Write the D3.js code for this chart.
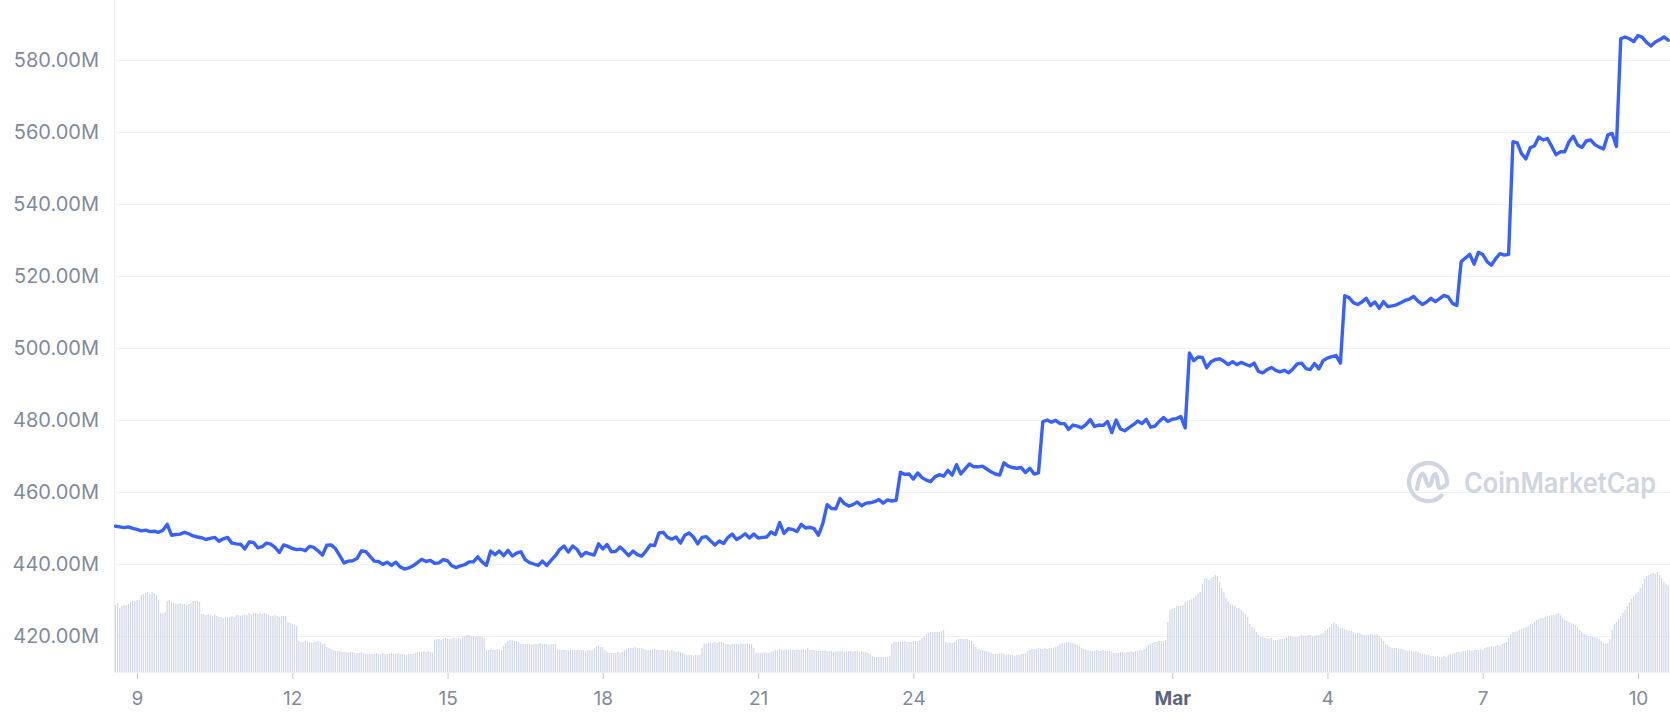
<!DOCTYPE html>
<html>
<head>
<meta charset="utf-8">
<script src="https://cdn.jsdelivr.net/npm/d3@7"></script>
<style>
  body { margin: 0; background: #fff; }
  svg { display: block; font-family: Inter, "Noto Sans", sans-serif; }
</style>
</head>
<body>
<script>
// Market cap (millions), one value every 2 hours from Feb 8 14:00
var capStart = Date.UTC(2022, 1, 8, 14);
var capStepHours = 2;
var capFeb8to17 = [
  450.5, 450.3, 450.1, 450.3, 449.9, 449.6, 449.2, 449.4, 449.0, 449.1, 448.8, 449.4,
  451.0, 448.0, 448.2, 448.3, 448.8, 448.4, 447.8, 447.5, 447.3, 446.8, 447.1, 447.4,
  446.3, 447.0, 447.4, 445.8, 445.6, 445.5, 444.2, 446.1, 446.0, 444.5, 444.8, 445.8,
  445.5, 444.6, 443.2, 445.3, 444.9, 444.3, 444.0, 444.1, 443.7, 444.9, 444.6, 443.6,
  442.5, 445.2, 445.3, 444.3, 442.3, 440.3, 440.8, 440.9, 441.5, 443.6, 443.5, 442.2,
  440.8, 440.7, 439.9, 440.5, 439.6, 440.5, 439.2, 438.6, 438.9, 439.5, 440.4, 441.3,
  440.7, 441.0, 440.2, 440.3, 441.2, 440.9, 439.5, 439.0, 439.5, 439.8, 440.6, 440.6,
  442.0, 440.6, 439.6, 443.6, 442.6, 443.6, 442.3, 443.8, 442.2, 443.0, 443.4, 441.2,
  440.4, 440.0, 439.6, 440.8, 439.6, 441.0, 442.3, 444.0, 445.0, 443.3, 445.0, 444.1,
  442.2, 443.2, 442.8, 442.5, 445.6, 444.2, 445.4, 443.4, 443.5, 444.7, 443.6, 442.3
];
var capFeb18to27 = [
  443.6, 442.6, 442.2, 443.6, 445.3, 445.1, 448.6, 448.8, 447.4, 446.9, 447.5, 445.8,
  448.0, 448.6, 447.5, 445.6, 447.4, 447.6, 446.4, 445.3, 446.4, 445.7, 447.4, 448.3,
  446.8, 447.5, 448.4, 447.2, 448.3, 447.2, 447.4, 447.5, 448.9, 448.2, 451.5, 448.5,
  449.8, 449.6, 449.0, 451.0, 450.0, 450.2, 449.8, 448.0, 451.2, 456.5, 455.4, 455.3,
  458.2, 456.8, 456.1, 456.5, 457.2, 456.2, 456.9, 457.0, 457.3, 457.9, 456.9, 457.8,
  457.5, 457.7, 465.5, 464.9, 465.0, 463.6, 465.3, 464.0, 463.3, 462.9, 464.2, 464.8,
  464.4, 466.0, 464.7, 467.6, 465.0, 466.4, 467.8, 467.0, 467.0, 467.2, 466.4, 465.6,
  465.0, 464.7, 468.1, 467.2, 466.8, 466.6, 466.8, 465.4, 466.6, 465.0, 465.3, 479.5,
  480.0, 479.4, 479.9, 479.0, 479.0, 477.4, 478.6, 478.3, 477.8, 478.7, 480.1, 478.2,
  478.6, 478.5, 479.6, 476.5, 480.0, 477.5, 477.0, 477.9, 478.7, 479.7, 479.0, 480.2
];
var capFeb28toMar10 = [
  478.0, 478.3, 479.6, 480.7, 479.6, 480.2, 480.4, 481.0, 477.8, 498.6, 496.5, 497.5,
  497.4, 494.5, 496.2, 496.8, 497.0, 496.3, 495.4, 496.2, 495.4, 496.0, 495.5, 495.0,
  495.8, 493.5, 493.1, 494.0, 494.6, 493.8, 493.4, 493.8, 493.1, 494.2, 495.6, 495.8,
  494.3, 494.0, 495.7, 494.2, 496.5, 497.2, 497.6, 497.9, 495.8, 514.5, 514.0, 512.6,
  512.1, 512.8, 513.8, 511.8, 512.8, 511.0, 512.9, 511.5, 511.7, 512.0, 512.6, 513.2,
  513.6, 514.3, 513.0, 512.1, 512.8, 513.8, 512.9, 513.7, 514.6, 514.2, 512.4, 511.8,
  524.0, 525.0, 526.0, 523.3, 526.6, 526.0, 524.0, 523.0, 524.8, 526.2, 525.8, 526.0,
  557.3, 557.0, 554.0, 552.5, 555.6, 556.2, 558.6, 557.8, 558.2, 556.0, 553.7, 554.5,
  554.5, 557.3, 558.8, 556.4, 555.7, 557.5, 557.8, 556.5, 555.8, 555.3, 559.2, 559.6,
  556.0, 585.9, 586.4, 585.9, 585.1, 586.8, 586.3, 584.9, 583.9, 585.0, 585.6, 586.4,
  585.5
];

// Volume (relative units), one bar per hour from Feb 8 14:00
var volStart = Date.UTC(2022, 1, 8, 14);
var volStepHours = 1;
var volFeb8to17 = [
  67,69,64,66,67,67,68,70,71,71,72,72,77,78,79,80,78,80,79,77,72,59,59,60,
  71,72,70,69,68,68,69,68,68,67,68,69,71,71,71,70,58,58,57,58,57,56,57,56,
  55,55,54,55,54,55,56,55,57,57,56,57,58,57,59,58,59,59,58,59,58,59,58,57,
  56,56,57,56,55,56,56,56,50,49,48,47,46,31,30,30,31,30,30,29,30,30,31,30,
  28,28,25,24,23,22,21,21,21,20,20,20,19,20,20,19,19,19,20,19,18,18,18,18,
  18,19,18,18,19,18,18,18,19,18,18,19,18,18,17,17,18,18,18,19,20,20,20,21,
  20,21,20,19,32,33,33,32,33,34,33,33,33,34,33,34,33,35,36,37,37,36,36,35,
  36,36,35,34,22,22,23,22,22,23,22,22,26,29,31,32,32,31,31,30,28,28,28,28,
  28,27,28,28,28,29,28,28,28,27,28,28,28,23,22,22,22,22,21,22,22,22,22,22,
  22,22,21,22,22,22,24,25,26,25,25,22,20,19,19,19,19,20,19,20,22,23,24,24
];
var volFeb18to27 = [
  24,25,24,24,24,23,22,22,22,22,23,22,22,22,22,21,22,21,22,21,20,21,20,19,
  18,17,17,17,16,17,17,17,24,28,28,29,29,29,30,29,30,30,29,28,28,27,28,28,
  28,28,29,28,28,29,28,28,24,19,19,19,19,20,19,19,20,21,22,22,23,22,22,23,
  22,23,22,22,23,22,22,23,22,24,22,22,22,21,21,21,21,22,21,21,21,20,21,21,
  21,21,20,21,21,21,20,21,21,20,21,20,20,19,18,16,15,15,15,15,15,15,15,16,
  28,30,30,30,30,30,31,30,30,30,31,31,31,32,34,35,38,39,40,40,40,40,40,41,
  42,30,29,29,29,30,32,33,33,33,33,33,32,31,28,25,23,22,22,21,21,20,19,18,
  18,18,19,19,18,17,18,17,17,16,17,17,18,18,19,21,22,23,23,23,24,23,23,24,
  23,24,24,24,25,26,28,29,29,30,30,29,29,28,27,26,24,23,22,22,21,21,21,22,
  21,21,22,21,21,21,20,19,19,19,20,20,19,20,20,21,20,21,21,22,22,23,25,27
];
var volFeb28toMar10 = [
  28,29,30,30,31,31,31,32,50,62,63,64,66,66,66,67,70,71,72,73,74,76,78,80,
  88,93,94,92,94,95,97,96,90,84,80,74,70,68,67,66,64,64,62,60,58,55,48,45,
  44,40,37,35,35,34,33,33,34,32,32,32,33,33,33,34,36,36,35,35,35,36,37,36,
  36,37,37,36,36,37,37,38,39,41,43,45,48,50,48,46,44,44,43,42,41,41,40,38,
  39,39,38,37,37,37,38,37,37,38,36,34,31,28,27,25,24,24,24,23,23,23,22,21,
  21,21,20,21,20,19,18,18,17,17,16,16,15,16,15,15,16,15,17,18,18,19,20,20,
  20,21,21,22,22,21,22,22,22,23,22,24,25,25,26,25,26,27,26,28,29,30,34,38,
  40,40,41,42,43,44,45,46,48,48,50,52,53,54,54,55,56,56,57,57,58,59,57,54,
  52,51,50,49,48,47,45,42,40,38,37,36,36,35,35,34,33,31,29,28,29,33,42,48,
  50,53,56,59,62,66,70,73,76,78,80,84,88,93,96,97,98,99,98,100,97,94,90,88,
  87
];

// Axis ticks
var yTickValues = [420, 440, 460, 480, 500, 520, 540, 560, 580];
var xTickDates = ["2022-02-09", "2022-02-12", "2022-02-15", "2022-02-18", "2022-02-21",
                  "2022-02-24", "2022-03-01", "2022-03-04", "2022-03-07", "2022-03-10"];

var hour = 3600 * 1000;
var capData = capFeb8to17.concat(capFeb18to27, capFeb28toMar10).map(function(v, i){
  return { date: new Date(capStart + i * capStepHours * hour), value: v };
});
var volData = volFeb8to17.concat(volFeb18to27, volFeb28toMar10).map(function(v, i){
  return { date: new Date(volStart + i * volStepHours * hour), value: v };
});

var width = 1670,
    height = 719;
var plotLeft = 114,
    plotRight = 1670,
    plotTop = 0,
    plotBottom = 672;

var svg = d3.select("body")
  .append("svg")
  .attr("width", width)
  .attr("height", height);

// Time scale: Feb 9 and Mar 10 tick positions
var x = d3.scaleUtc()
  .domain([new Date(Date.UTC(2022, 1, 9)), new Date(Date.UTC(2022, 2, 10))])
  .range([137, 1638]);

var y = d3.scaleLinear()
  .domain([410, 596.67])
  .range([plotBottom, plotTop]);

// volume sits in the bottom band of the plot
var yVol = d3.scaleLinear()
  .domain([0, 100])
  .range([plotBottom, plotBottom - 100]);

svg.append("clipPath")
  .attr("id", "plotClip")
  .append("rect")
  .attr("x", plotLeft)
  .attr("y", plotTop)
  .attr("width", plotRight - plotLeft)
  .attr("height", plotBottom - plotTop);

// Gridlines
svg.append("g")
  .attr("class", "grid")
  .attr("transform", "translate(" + plotLeft + ",0)")
  .call(d3.axisLeft(y).tickValues(yTickValues).tickSize(-(plotRight - plotLeft)).tickFormat(""))
  .call(function(g){ g.select(".domain").remove(); })
  .selectAll("line")
  .attr("stroke", "#eff2f5");

// left edge line
svg.append("line")
  .attr("x1", plotLeft + 0.5).attr("x2", plotLeft + 0.5)
  .attr("y1", plotTop).attr("y2", plotBottom)
  .attr("stroke", "#eff2f5");

// Volume bars
svg.append("g")
  .attr("clip-path", "url(#plotClip)")
  .selectAll("rect")
  .data(volData)
  .enter()
  .append("rect")
  .attr("x", function(d){ return x(d.date) - 0.6; })
  .attr("width", 1.2)
  .attr("y", function(d){ return yVol(d.value); })
  .attr("height", function(d){ return plotBottom - yVol(d.value); })
  .attr("fill", "#d0d6e6");

svg.append("line")
  .attr("x1", plotLeft).attr("x2", plotRight)
  .attr("y1", plotBottom + 0.5).attr("y2", plotBottom + 0.5)
  .attr("stroke", "#eff2f5");

// Watermark
var mark = svg.append("g").attr("fill", "none").attr("stroke", "#cfd5e2")
  .attr("stroke-width", 4.2).attr("stroke-linecap", "round").attr("stroke-linejoin", "round");
var cx = 1428, cy = 482, r = 19;
var a0 = 45 * Math.PI / 180;
mark.append("path")
  .attr("d", "M" + (cx + r * Math.cos(a0)) + "," + (cy + r * Math.sin(a0)) +
             " A" + r + "," + r + " 0 1 1 " + (cx + r) + "," + cy);
mark.append("path")
  .attr("d", "M" + (cx - 11) + "," + (cy + 7) +
             " C" + (cx - 9) + "," + (cy - 4) + " " + (cx - 7) + "," + (cy - 9) + " " + (cx - 5) + "," + (cy - 8) +
             " C" + (cx - 2) + "," + (cy - 7) + " " + (cx - 2) + "," + (cy + 4) + " " + (cx + 1) + "," + (cy + 4) +
             " C" + (cx + 4) + "," + (cy + 4) + " " + (cx + 4) + "," + (cy - 8) + " " + (cx + 7) + "," + (cy - 8) +
             " C" + (cx + 10) + "," + (cy - 8) + " " + (cx + 9) + "," + (cy + 6) + " " + (cx + 12) + "," + (cy + 6) +
             " C" + (cx + 15) + "," + (cy + 6) + " " + (cx + 17) + "," + (cy + 4) + " " + (cx + 19) + "," + (cy + 2));
svg.append("text")
  .attr("x", 1464)
  .attr("y", 493)
  .attr("font-size", 28)
  .attr("font-weight", 600)
  .attr("fill", "#cfd5e2")
  .attr("textLength", 192)
  .attr("lengthAdjust", "spacingAndGlyphs")
  .text("CoinMarketCap");

// Market cap line
var line = d3.line()
  .x(function(d){ return x(d.date); })
  .y(function(d){ return y(d.value); });

svg.append("path")
  .datum(capData)
  .attr("clip-path", "url(#plotClip)")
  .attr("fill", "none")
  .attr("stroke", "#3861fb")
  .attr("stroke-width", 3.4)
  .attr("stroke-linejoin", "round")
  .attr("stroke-linecap", "round")
  .attr("d", line);

// Y axis labels
svg.append("g")
  .attr("transform", "translate(" + plotLeft + ",0)")
  .call(d3.axisLeft(y).tickValues(yTickValues).tickSize(0).tickPadding(15)
    .tickFormat(function(d){ return d.toFixed(2) + "M"; }))
  .call(function(g){ g.select(".domain").remove(); })
  .selectAll("text")
  .attr("font-family", "Inter, 'Noto Sans', sans-serif")
  .attr("font-size", 20)
  .attr("fill", "#808a9d");

// X axis
var monthFmt = d3.utcFormat("%b");
var xAxis = svg.append("g")
  .attr("transform", "translate(0," + (plotBottom + 1) + ")")
  .call(d3.axisBottom(x)
    .tickValues(xTickDates.map(function(s){ return new Date(s + "T00:00:00Z"); }))
    .tickSize(6)
    .tickPadding(13)
    .tickFormat(function(d){ return d.getUTCDate() === 1 ? monthFmt(d) : d.getUTCDate(); }));
xAxis.select(".domain").remove();
xAxis.selectAll("line").attr("stroke", "#c4cad6");
xAxis.selectAll("text")
  .attr("font-family", "Inter, 'Noto Sans', sans-serif")
  .attr("font-size", 19)
  .attr("fill", function(d){ return d.getUTCDate() === 1 ? "#58667e" : "#808a9d"; })
  .attr("font-weight", function(d){ return d.getUTCDate() === 1 ? 700 : 400; });
</script>
</body>
</html>
